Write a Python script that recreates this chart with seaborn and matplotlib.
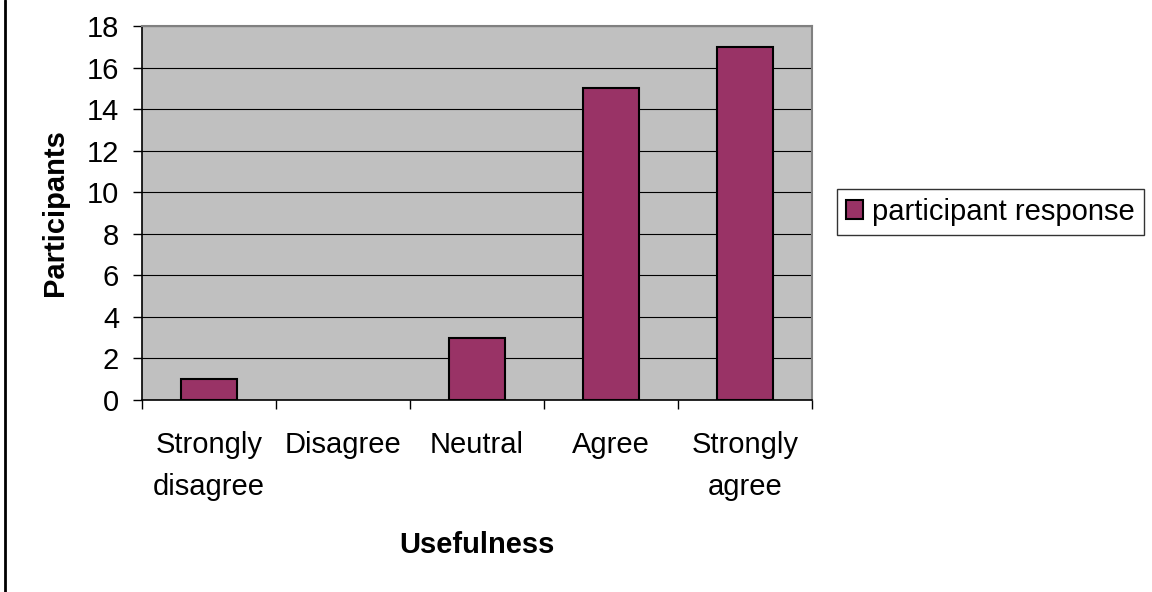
import pandas as pd
import matplotlib.pyplot as plt
import seaborn as sns
from matplotlib.lines import Line2D

# Data
categories = ['Strongly\ndisagree', 'Disagree', 'Neutral', 'Agree', 'Strongly\nagree']
participants = [1, 0, 3, 15, 17]
y_ticks = [0, 2, 4, 6, 8, 10, 12, 14, 16, 18]

sns.set_style('white')
plt.rcParams['font.family'] = ['Liberation Sans', 'DejaVu Sans']
plt.rcParams['text.color'] = 'black'
plt.rcParams['axes.labelcolor'] = 'black'
plt.rcParams['xtick.color'] = 'black'
plt.rcParams['ytick.color'] = 'black'

df = pd.DataFrame({'Usefulness': categories, 'Participants': participants})

fig = plt.figure(figsize=(11.52, 5.92), dpi=100)
ax = fig.add_axes([142 / 1152, 1 - 400 / 592, (812 - 142) / 1152, (400 - 26) / 592])
ax.set_facecolor('#C0C0C0')

sns.barplot(data=df, x='Usefulness', y='Participants', color='#993366',
            saturation=1, edgecolor='black', linewidth=1.5, width=0.42,
            label='participant response', ax=ax, zorder=3)

# empty bars are not drawn in the original
for bar in ax.patches:
    if bar.get_height() == 0:
        bar.set_visible(False)

# Y axis
ax.set_ylim(0, 18)
ax.set_yticks(y_ticks)
ax.yaxis.grid(True, color='black', linewidth=0.8, zorder=1)
ax.set_axisbelow(True)
ax.tick_params(axis='y', direction='out', length=6.5, width=1, color='black',
               labelsize=21, pad=10, left=True, labelcolor='black')

# X axis: ticks at the category boundaries
ax.set_xlim(-0.5, len(categories) - 0.5)
ax.set_xticks(range(len(categories)))
ax.set_xticklabels(categories, linespacing=1.65)
ax.set_xticks([i - 0.5 for i in range(len(categories) + 1)], minor=True)
ax.tick_params(axis='x', which='major', length=0, labelsize=21, pad=22,
               labelcolor='black')
ax.tick_params(axis='x', which='minor', direction='out', length=6.5, width=1,
               color='black', bottom=True)

for side in ['left', 'bottom']:
    ax.spines[side].set_color('black')
    ax.spines[side].set_linewidth(1.2)
for side in ['top', 'right']:
    ax.spines[side].set_visible(True)
    ax.spines[side].set_color('#808080')
    ax.spines[side].set_linewidth(1.5)

ax.set_xlabel('Usefulness', fontsize=21, fontweight='bold', labelpad=22)
ax.set_ylabel('Participants', fontsize=21, fontweight='bold', labelpad=13)

leg = ax.legend(loc='center left', bbox_to_anchor=(837 / 1152, 1 - 212 / 592),
                bbox_transform=fig.transFigure, fontsize=21, frameon=True,
                fancybox=False, edgecolor='black', borderaxespad=0,
                handlelength=0.6, handleheight=0.6, handletextpad=0.3,
                borderpad=0.3)
leg.get_frame().set_linewidth(1)

# Left border line of the chart area
fig.add_artist(Line2D([5 / 1152, 5 / 1152], [0, 1], color='black', linewidth=2,
                      transform=fig.transFigure))

plt.savefig('out.png', dpi=100)
plt.close()
